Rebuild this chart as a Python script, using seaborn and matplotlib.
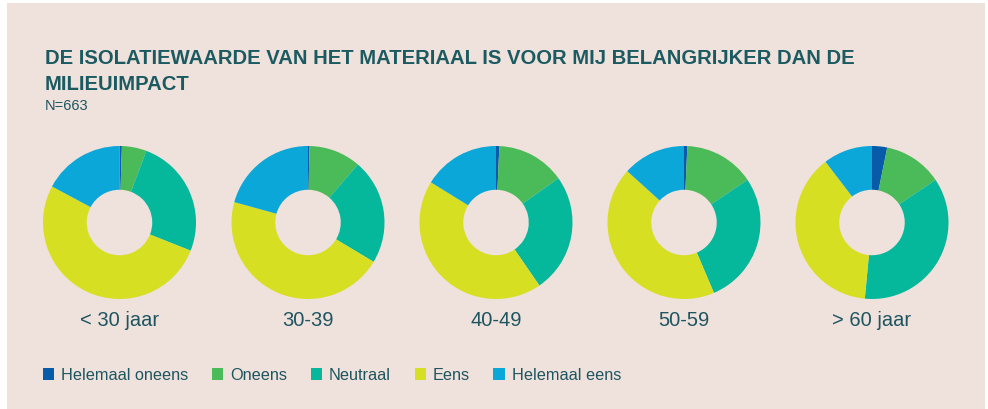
import matplotlib
matplotlib.use("Agg")
import matplotlib.pyplot as plt
from matplotlib.patches import Rectangle, Patch
import seaborn as sns
import numpy as np

# ---- data ----
categories = ["Helemaal oneens", "Oneens", "Neutraal", "Eens", "Helemaal eens"]
groups = ["< 30 jaar", "30-39", "40-49", "50-59", "> 60 jaar"]
lt30 = [0.5, 5.2, 25.3, 51.8, 17.2]
g30_39 = [0.3, 11.0, 22.3, 45.7, 20.7]
g40_49 = [0.7, 14.5, 25.2, 43.4, 16.2]
g50_59 = [0.7, 14.9, 28.0, 43.1, 13.3]
gt60 = [3.2, 12.4, 35.9, 38.1, 10.4]
series = [lt30, g30_39, g40_49, g50_59, gt60]
title = "DE ISOLATIEWAARDE VAN HET MATERIAAL IS VOOR MIJ BELANGRIJKER DAN DE\nMILIEUIMPACT"
subtitle = "N=663"

colors = ["#075ba8", "#4bba58", "#05b89c", "#d7df23", "#0ba7d8"]
bg = "#efe1db"
txt = "#1e5560"

sns.set_theme(style="white")
plt.rcParams["font.family"] = ["Liberation Sans", "DejaVu Sans"]

W, H = 988, 410
fig = plt.figure(figsize=(W / 100, H / 100), dpi=100)
fig.patch.set_facecolor("white")
fig.patches.append(Rectangle((7 / W, 0), (985 - 7) / W, (H - 4) / H,
                             transform=fig.transFigure, facecolor=bg,
                             edgecolor="none", zorder=-10))

def fx(px):
    return px / W

def fy(py):
    return 1 - py / H

# title
t = fig.text(fx(45), fy(49), title, fontsize=13, fontweight="bold", color="#1b5a61",
             va="top", ha="left", linespacing=1.5)
fig.canvas.draw()
first_line = fig.text(0, 0, title.split("\n")[0], fontsize=13, fontweight="bold")
wpx = first_line.get_window_extent(fig.canvas.get_renderer()).width
first_line.remove()
t.set_fontsize(13 * 812 / wpx)
fig.text(fx(45), fy(99), subtitle, fontsize=10.5, color=txt, va="top", ha="left")

centers = [119.5, 308, 496, 684, 872]
cy = 223.5
r = 76.5
for cx, vals, name in zip(centers, series, groups):
    ax = fig.add_axes([fx(cx - r), fy(cy + r), 2 * r / W, 2 * r / H])
    ax.pie(vals, colors=colors, startangle=90, counterclock=False,
           wedgeprops=dict(width=0.572, linewidth=0), radius=1)
    ax.set_xlim(-1, 1)
    ax.set_ylim(-1, 1)
    ax.set_aspect("auto")
    ax.axis("off")
    fig.text(fx(cx), fy(321), name, fontsize=14.5, color=txt, ha="center", va="center")

handles = [Patch(facecolor=c, edgecolor="none") for c in colors]
leg = fig.legend(handles, categories, loc="center left", bbox_to_anchor=(fx(43), fy(376)),
                 ncol=5, frameon=False, fontsize=11.7, handlelength=0.7, handleheight=0.7,
                 handletextpad=0.42, columnspacing=1.45, borderaxespad=0, borderpad=0)
for tx in leg.get_texts():
    tx.set_color(txt)

fig.savefig("out.png", dpi=100, facecolor=fig.get_facecolor())
